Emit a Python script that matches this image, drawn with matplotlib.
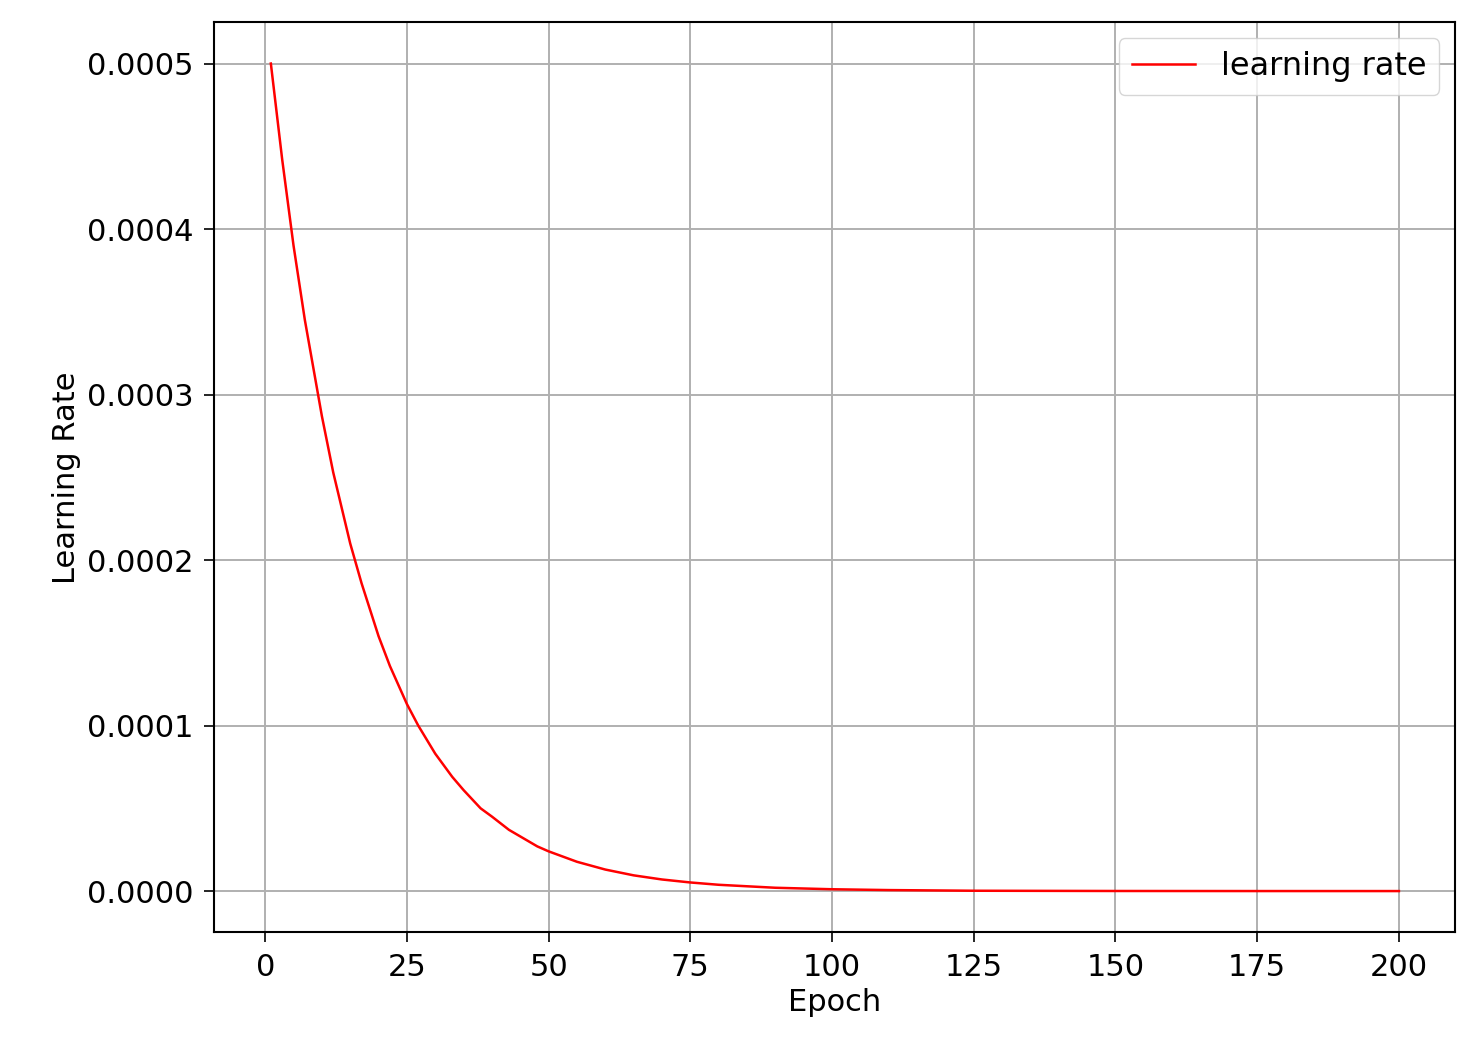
import matplotlib
matplotlib.use("Agg")
import matplotlib.pyplot as plt

# values
epochs = [1, 3, 5, 7, 10, 12, 15, 17, 20, 22, 25, 27, 30, 33, 35, 38, 40, 43, 45,
          48, 50, 55, 60, 65, 70, 75, 80, 90, 100, 110, 125, 150, 175, 200]
lr = [0.0005, 0.000442, 0.00039, 0.000345, 0.000287, 0.000253, 0.00021, 0.000186,
      0.000154, 0.000136, 0.000113, 0.0001, 0.000083, 0.000069, 0.000061,
      0.000050, 0.000045, 0.000037, 0.000033, 0.000027, 0.000024, 0.0000177,
      0.000013, 0.0000095, 0.000007, 0.0000052, 0.0000038, 0.000002, 0.0000011,
      0.0000006, 0.0000002, 0.00000005, 0.00000001, 0.0]

fig = plt.figure(figsize=(14.79, 10.56), dpi=100)
ax = fig.add_axes([0.145, 0.117, 0.839, 0.862])
ax.plot(epochs, lr, color='red', linewidth=1.8, label='learning rate')
ax.grid(True, color='#b0b0b0', linewidth=1.4)
ax.set_xticks([0, 25, 50, 75, 100, 125, 150, 175, 200])
ax.set_yticks([0.0, 0.0001, 0.0002, 0.0003, 0.0004, 0.0005])
ax.yaxis.set_major_formatter(matplotlib.ticker.FormatStrFormatter('%.4f'))
ax.tick_params(axis='both', labelsize=22, length=7, width=1.2, pad=8)
ax.set_xlabel('Epoch', fontsize=22)
ax.set_ylabel('Learning Rate', fontsize=22)
ax.legend(loc='upper right', fontsize=23)
[s.set_linewidth(1.5) for s in ax.spines.values()]
fig.savefig('out.png', dpi=100)
